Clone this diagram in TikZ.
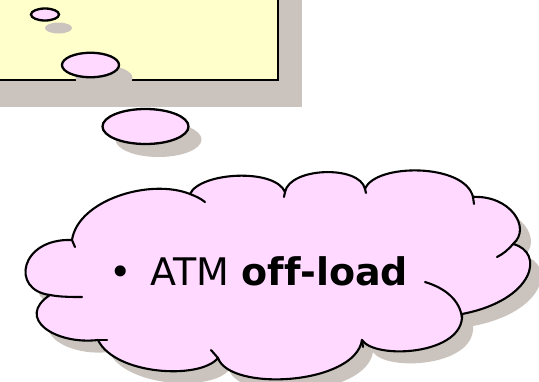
\documentclass[tikz,border=0pt]{standalone}
\usepackage{fontspec}
\usetikzlibrary{shapes.geometric}
\newfontfamily\dvs[Ligatures=NoCommon]{DejaVu Sans}
\definecolor{shadowc}{RGB}{203,196,190}
\definecolor{paleyellow}{RGB}{255,255,204}
\definecolor{palepink}{RGB}{255,217,255}
\tikzset{
  bubble/.style={fill=palepink,draw=black,line width=2.3pt},
  bubshadow/.style={fill=shadowc},
  tick/.style={draw=black,line width=2.1pt,line cap=round},
}
\def\mycloud{(72,240) .. controls (78,200) and (150,178) .. (190,194)
 .. controls (200,172) and (275,168) .. (285,192)
 .. controls (290,167) and (360,165) .. (365,189)
 .. controls (375,163) and (465,163) .. (473,197)
 .. controls (510,195) and (532,228) .. (513,244)
 .. controls (545,252) and (535,300) .. (462,314)
 .. controls (465,355) and (375,360) .. (362,340)
 .. controls (355,385) and (230,392) .. (218,358)
 .. controls (200,380) and (115,375) .. (98,340)
 .. controls (55,345) and (15,318) .. (50,295)
 .. controls (10,290) and (20,238) .. (72,240) -- cycle}
\begin{document}
\begin{tikzpicture}[x=1pt,y=-1pt]
\useasboundingbox (0,0) rectangle (539,381);
\clip (0,0) rectangle (539,381);
% slide frame
\fill[shadowc] (-20,-20) rectangle (302,107);
\draw[fill=paleyellow,line width=1.4pt] (-20,-20) rectangle (278,80);
% thought bubbles
\fill[bubshadow] (58.5,28) ellipse [x radius=13.5,y radius=5.5];
\fill[bubshadow] (104,78) ellipse [x radius=28.5,y radius=12.5];
\fill[bubshadow] (158.5,139.5) ellipse [x radius=43,y radius=17.5];
\node[bubble,ellipse,minimum width=28pt,minimum height=12pt,inner sep=0pt] (b1) at (45,14.5) {};
\node[bubble,ellipse,minimum width=57pt,minimum height=24.5pt,inner sep=0pt] (b2) at (90.5,65) {};
\node[bubble,ellipse,minimum width=86pt,minimum height=35pt,inner sep=0pt] (b3) at (145.5,126.5) {};
% cloud
\fill[shadowc,shift={(11,12)}] \mycloud;
\draw[fill=palepink,line width=2.1pt,line join=round] \mycloud;
\draw[tick] (72,240) -- (75,247);
\draw[tick] (190,194) .. controls (195,196) and (200,198) .. (205,202);
\draw[tick] (285,192) -- (284,197);
\draw[tick] (365,189) -- (366,193);
\draw[tick] (473,197) -- (474,204);
\draw[tick] (513,244) .. controls (508,250) and (503,254) .. (497,257);
\draw[tick] (425,282) .. controls (445,288) and (460,300) .. (462,318);
\draw[tick] (362,340) -- (363,347);
\draw[tick] (218,358) -- (211,350);
\draw[tick] (50,295) .. controls (60,297) and (72,297) .. (82,297);
\draw[tick] (98,340) -- (107,340);
\node[anchor=base west,inner sep=0pt,font={\dvs\fontsize{38}{45}\selectfont}] (txt) at (109,285) {•\hspace{19pt}ATM \textbf{off-load}};
\end{tikzpicture}
\end{document}
